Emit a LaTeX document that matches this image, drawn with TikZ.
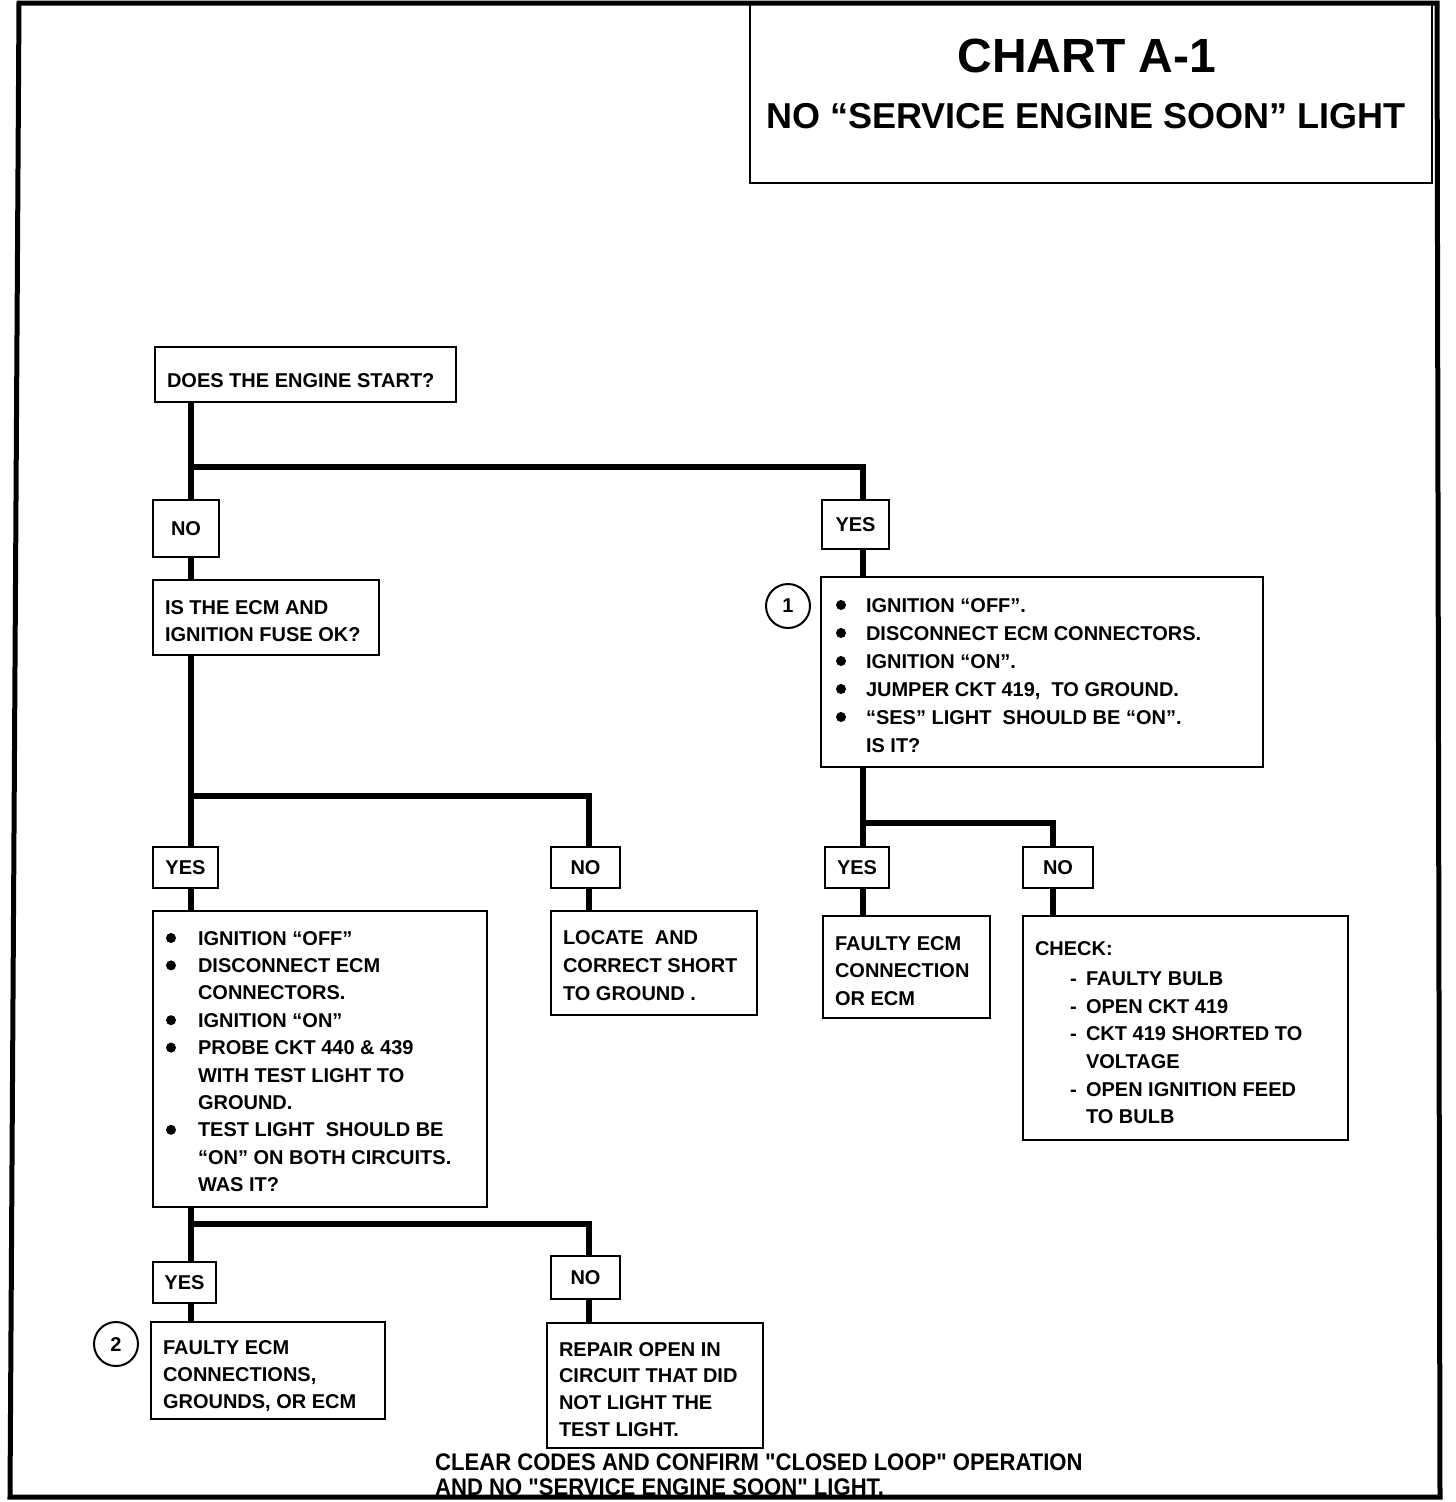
\documentclass[tikz,border=0pt]{standalone}
\usepackage{fontspec}
\setmainfont{Liberation Sans}
\newfontfamily\footfont[FakeStretch=0.92]{Liberation Sans}
\usepackage{array}
\newcommand\blt{\tikz[baseline=0pt]\fill (5pt,7pt) circle[radius=5pt];}
\begin{document}
\begin{tikzpicture}[x=1pt,y=-1pt,
  box/.style={draw, line width=2.5pt, inner sep=0pt, outer sep=0pt, anchor=north west},
  conn/.style={line width=6.5pt, line join=miter},
  txt/.style={anchor=base west, inner sep=0pt, outer sep=0pt, font=\bfseries\fontsize{20}{27.5}\selectfont},
  lbl/.style={font=\bfseries\fontsize{20}{24}\selectfont},
  num/.style={draw, circle, line width=2pt, minimum size=44pt, inner sep=0pt, font=\bfseries\fontsize{20}{24}\selectfont}]
\fill[white] (0,0) rectangle (1456,1502);
\useasboundingbox (0,0) rectangle (1456,1502);
% frame
\draw[line width=5pt, line join=miter] (19,3) -- (1437,3) -- (1440,1497) -- (10,1497) -- cycle;
% title
\node[box, line width=2pt, minimum width=682pt, minimum height=180pt] (title) at (750,3) {};
\node[anchor=base, inner sep=0pt, font=\bfseries\fontsize{48}{50}\selectfont] (t1) at (1087,72) {CHART A-1};
\node[anchor=base, inner sep=0pt, font=\bfseries\fontsize{36}{40}\selectfont] (t2) at (1086,128) {NO “SERVICE ENGINE SOON” LIGHT};
% boxes
\node[box, minimum width=301pt, minimum height=55pt] (start) at (155,347) {};
\node[txt] (tstart) at (167,387) {DOES THE ENGINE START?};
\node[box, lbl, minimum width=66pt, minimum height=57pt] (no1) at (153,500) {NO};
\node[box, lbl, minimum width=67pt, minimum height=49pt] (yes1) at (822,500) {YES};
\node[box, minimum width=226pt, minimum height=75pt] (q2) at (153,580) {};
\node[txt] (tq2) at (165,614) {\begin{tabular}[t]{@{}l@{}}IS THE ECM AND\\ IGNITION FUSE OK?\end{tabular}};
\node[box, minimum width=442pt, minimum height=190pt] (b1) at (821,577) {};
\node[txt, font=\bfseries\fontsize{20}{28}\selectfont] (tb1) at (836,612) {\begin{tabular}[t]{@{}p{30pt}@{}l@{}}
\blt & IGNITION “OFF”.\\
\blt & DISCONNECT ECM CONNECTORS.\\
\blt & IGNITION “ON”.\\
\blt & JUMPER CKT 419,\ \ TO GROUND.\\
\blt & “SES” LIGHT\ \ SHOULD BE “ON”.\\
     & IS IT?\end{tabular}};
\node[num] (c1) at (788,606) {1};
\node[box, lbl, minimum width=65pt, minimum height=41pt] (yes2) at (153,847) {YES};
\node[box, lbl, minimum width=69pt, minimum height=41pt] (no2) at (551,847) {NO};
\node[box, lbl, minimum width=64pt, minimum height=41pt] (yes3) at (825,847) {YES};
\node[box, lbl, minimum width=70pt, minimum height=41pt] (no3) at (1023,847) {NO};
\node[box, minimum width=334pt, minimum height=296pt] (big) at (153,911) {};
\node[txt, font=\bfseries\fontsize{20}{27.4}\selectfont] (tbig) at (166,945) {\begin{tabular}[t]{@{}p{32pt}@{}l@{}}
\blt & IGNITION “OFF”\\
\blt & DISCONNECT ECM\\
     & CONNECTORS.\\
\blt & IGNITION “ON”\\
\blt & PROBE CKT 440 \& 439\\
     & WITH TEST LIGHT TO\\
     & GROUND.\\
\blt & TEST LIGHT\ \ SHOULD BE\\
     & “ON” ON BOTH CIRCUITS.\\
     & WAS IT?\end{tabular}};
\node[box, minimum width=206pt, minimum height=104pt] (locate) at (551,911) {};
\node[txt, font=\bfseries\fontsize{20}{28}\selectfont] (tlocate) at (563,944) {\begin{tabular}[t]{@{}l@{}}LOCATE\ \ AND\\ CORRECT SHORT\\ TO GROUND .\end{tabular}};
\node[box, minimum width=167pt, minimum height=102pt] (faulty1) at (823,916) {};
\node[txt, font=\bfseries\fontsize{20}{27.5}\selectfont] (tfaulty1) at (835,950) {\begin{tabular}[t]{@{}l@{}}FAULTY ECM\\ CONNECTION\\ OR ECM\end{tabular}};
\node[box, minimum width=325pt, minimum height=224pt] (check) at (1023,916) {};
\node[txt, font=\bfseries\fontsize{20}{27.6}\selectfont] (tcheck) at (1035,955) {\begin{tabular}[t]{@{}p{35pt}@{}p{16pt}@{}l@{}}
\multicolumn{3}{@{}l@{}}{CHECK:}\\[3pt]
 & - & FAULTY BULB\\
 & - & OPEN CKT 419\\
 & - & CKT 419 SHORTED TO\\
 &   & VOLTAGE\\
 & - & OPEN IGNITION FEED\\
 &   & TO BULB\end{tabular}};
\node[box, lbl, minimum width=63pt, minimum height=41pt] (yes4) at (153,1262) {YES};
\node[box, lbl, minimum width=69pt, minimum height=43pt] (no4) at (551,1256) {NO};
\node[box, minimum width=234pt, minimum height=97pt] (faulty2) at (151,1322) {};
\node[txt, font=\bfseries\fontsize{20}{27}\selectfont] (tfaulty2) at (163,1354) {\begin{tabular}[t]{@{}l@{}}FAULTY ECM\\ CONNECTIONS,\\ GROUNDS, OR ECM\end{tabular}};
\node[num] (c2) at (116,1344) {2};
\node[box, minimum width=216pt, minimum height=125pt] (repair) at (547,1323) {};
\node[txt, font=\bfseries\fontsize{20}{26.7}\selectfont] (trepair) at (559,1356) {\begin{tabular}[t]{@{}l@{}}REPAIR OPEN IN\\ CIRCUIT THAT DID\\ NOT LIGHT THE\\ TEST LIGHT.\end{tabular}};
\node[anchor=base west, inner sep=0pt, font=\footfont\bfseries\fontsize{24}{25}\selectfont] (foot) at (435,1470) {\begin{tabular}[t]{@{}l@{}}CLEAR CODES AND CONFIRM "CLOSED LOOP" OPERATION\\ AND NO "SERVICE ENGINE SOON" LIGHT.\end{tabular}};
% connector columns
\coordinate (L) at (191,0);
\coordinate (M) at (589,0);
\coordinate (R) at (863,0);
\coordinate (RR) at (1053,0);
\coordinate (j1) at (191,467);
\coordinate (j2) at (191,796);
\coordinate (j3) at (191,1224);
\coordinate (j4) at (863,823);
% connectors
\draw[conn] (start.south -| L) -- (no1.north -| L);
\draw[conn] (j1) -- (j1 -| R) -- (yes1.north -| R);
\draw[conn] (no1.south -| L) -- (q2.north -| L);
\draw[conn] (q2.south -| L) -- (yes2.north -| L);
\draw[conn] (j2) -- (j2 -| M) -- (no2.north -| M);
\draw[conn] (yes2.south -| L) -- (big.north -| L);
\draw[conn] (no2.south -| M) -- (locate.north -| M);
\draw[conn] (big.south -| L) -- (yes4.north -| L);
\draw[conn] (j3) -- (j3 -| M) -- (no4.north -| M);
\draw[conn] (yes4.south -| L) -- (faulty2.north -| L);
\draw[conn] (no4.south -| M) -- (repair.north -| M);
\draw[conn] (yes1.south -| R) -- (b1.north -| R);
\draw[conn] (b1.south -| R) -- (yes3.north -| R);
\draw[conn] (j4) -- (j4 -| RR) -- (no3.north -| RR);
\draw[conn] (yes3.south -| R) -- (faulty1.north -| R);
\draw[conn] (no3.south -| RR) -- (check.north -| RR);
\end{tikzpicture}
\end{document}
